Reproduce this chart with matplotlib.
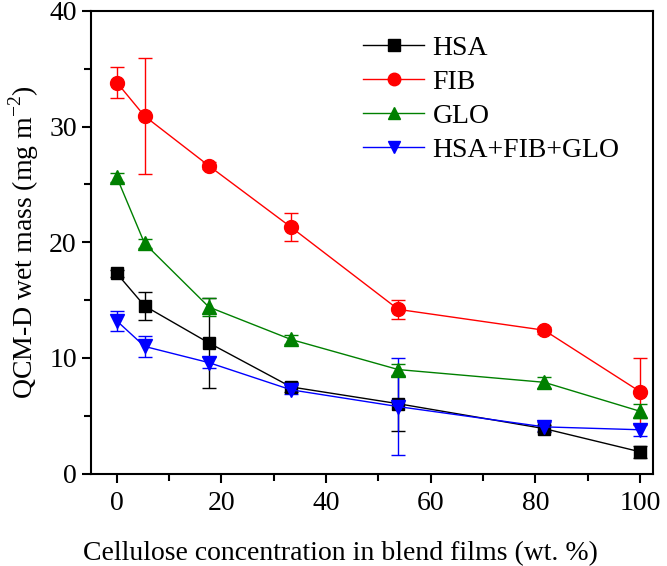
import matplotlib.pyplot as plt
from matplotlib.ticker import MultipleLocator
from matplotlib.lines import Line2D
import numpy as np

plt.rcParams['font.family'] = ['Liberation Serif', 'DejaVu Serif']
plt.rcParams['mathtext.fontset'] = 'custom'
plt.rcParams['mathtext.rm'] = 'Liberation Serif'

conc = [0, 5.3, 17.6, 33.3, 53.8, 81.7, 100]

hsa = [17.3, 14.5, 11.3, 7.5, 6.05, 3.9, 1.9]
hsa_err = [0.3, 1.2, 3.9, 0.4, 2.4, 0.3, 0.5]

fib = [33.8, 30.9, 26.6, 21.3, 14.2, 12.4, 7.1]
fib_err = [1.3, 5.0, 0.3, 1.2, 0.85, 0.3, 2.9]

glo = [25.6, 19.9, 14.4, 11.6, 9.0, 7.9, 5.4]
glo_err = [0.4, 0.4, 0.8, 0.4, 0.5, 0.5, 0.6]

mix = [13.2, 11.0, 9.6, 7.25, 5.8, 4.05, 3.8]
mix_err = [0.9, 0.9, 0.5, 0.4, 4.2, 0.4, 0.5]

series = [
    ('HSA', hsa, hsa_err, 'black', 's', 9),
    ('FIB', fib, fib_err, 'red', 'o', 10),
    ('GLO', glo, glo_err, 'green', '^', 10),
    ('HSA+FIB+GLO', mix, mix_err, 'blue', 'v', 10),
]

fig = plt.figure(figsize=(6.67, 5.66), dpi=100)
ax = fig.add_axes([0.136, 0.163, 0.843, 0.818])

handles = []
for name, vals, errs, col, mk, ms in series:
    ax.errorbar(conc, vals, yerr=errs, color=col, marker=mk, markersize=ms,
                linewidth=1, elinewidth=1, capsize=5, capthick=1)
    handles.append(Line2D([], [], color=col, marker=mk, markersize=ms - 1,
                          linewidth=1, label=name))

ax.set_xlim(-5, 102.5)
ax.set_ylim(0, 40)
ax.xaxis.set_major_locator(MultipleLocator(20))
ax.xaxis.set_minor_locator(MultipleLocator(10))
ax.yaxis.set_major_locator(MultipleLocator(10))
ax.yaxis.set_minor_locator(MultipleLocator(5))
ax.tick_params(which='both', direction='out', width=1.5, labelsize=20)
ax.tick_params(which='major', length=6.5)
ax.tick_params(which='minor', length=5)
ax.tick_params(axis='x', pad=6)
for sp in ax.spines.values():
    sp.set_linewidth(1.5)

ax.set_xlabel('Cellulose concentration in blend films (wt. %)', fontsize=20, labelpad=14)
ax.xaxis.set_label_coords(0.445, -0.145)
ax.set_ylabel('QCM-D wet mass (mg m$^{-2}$)', fontsize=20, labelpad=6)

leg = ax.legend(handles=handles, loc='upper left', bbox_to_anchor=(0.44, 1.0),
                frameon=False, fontsize=20, handlelength=2.2, labelspacing=0.3,
                handletextpad=0.3)

fig.savefig('out.png', dpi=100)
